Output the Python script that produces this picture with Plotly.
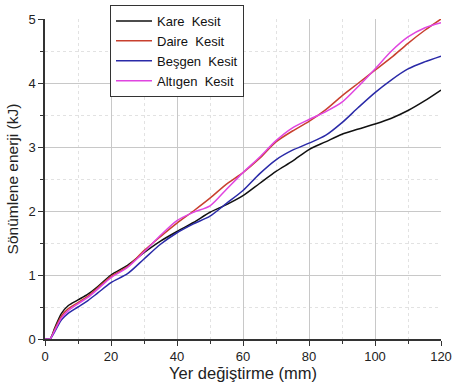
import plotly.graph_objects as go

# Displacement (mm) sample positions
displacement = [0, 1.5, 3, 5, 7, 10, 13, 16, 20, 25, 30, 35, 40, 45, 50, 55, 60,
                65, 70, 75, 80, 85, 90, 95, 100, 105, 110, 115, 120]

# Absorbed energy (kJ) for each cross-section
kare = [0, 0, 0.18, 0.40, 0.52, 0.61, 0.70, 0.82, 1.00, 1.15, 1.35, 1.53, 1.68, 1.82, 1.98,
        2.10, 2.24, 2.43, 2.62, 2.78, 2.96, 3.08, 3.20, 3.28, 3.36, 3.45, 3.57, 3.72, 3.89]
daire = [0, 0, 0.16, 0.36, 0.47, 0.57, 0.67, 0.80, 0.98, 1.13, 1.38, 1.60, 1.81, 2.00, 2.20,
         2.42, 2.60, 2.82, 3.08, 3.25, 3.40, 3.58, 3.80, 4.00, 4.20, 4.40, 4.62, 4.82, 5.00]
besgen = [0, 0, 0.12, 0.30, 0.40, 0.50, 0.60, 0.72, 0.88, 1.02, 1.25, 1.48, 1.66, 1.80, 1.92,
          2.12, 2.32, 2.58, 2.80, 2.95, 3.06, 3.18, 3.38, 3.62, 3.85, 4.05, 4.22, 4.33, 4.42]
altigen = [0, 0, 0.14, 0.33, 0.44, 0.55, 0.65, 0.78, 0.96, 1.12, 1.36, 1.62, 1.85, 1.98, 2.08,
           2.34, 2.60, 2.84, 3.10, 3.30, 3.43, 3.55, 3.70, 3.95, 4.22, 4.50, 4.72, 4.86, 4.94]

series_names = ["Kare\u00a0 Kesit", "Daire\u00a0 Kesit", "Beşgen\u00a0 Kesit", "Altıgen\u00a0 Kesit"]
series_values = [kare, daire, besgen, altigen]
series_colors = ["#111111", "#c8402e", "#2a2aa8", "#e045e0"]

FONT = "Liberation Sans"

fig = go.Figure()
for name, vals, color in zip(series_names, series_values, series_colors):
    fig.add_trace(go.Scatter(
        x=displacement, y=vals, mode="lines", name=name,
        line=dict(color=color, width=1.5, shape="spline", smoothing=0.8),
    ))

axis_common = dict(
    automargin=False,
    showline=True, linecolor="#333333", linewidth=1.5,
    ticks="outside", ticklen=5, tickwidth=1.2, tickcolor="#333333",
    showgrid=True, gridcolor="#c8c8c8", gridwidth=1,
    zeroline=False, mirror=False,
    tickfont=dict(family=FONT, size=13, color="#222222"),
)

fig.update_xaxes(
    range=[0, 120], dtick=20, tick0=0,
    title=dict(text="Yer değiştirme (mm)", standoff=2,
               font=dict(family=FONT, size=16.5, color="#222222")),
    minor=dict(dtick=10, ticks="outside", ticklen=3, tickcolor="#333333",
               showgrid=True, gridcolor="#e2e2e2", griddash="dot"),
    **axis_common,
)
fig.update_yaxes(
    range=[0, 5], dtick=1, tick0=0,
    title=dict(text="Sönümlene enerji (kJ)", standoff=6,
               font=dict(family=FONT, size=15.5, color="#222222")),
    minor=dict(dtick=0.5, ticks="outside", ticklen=3, tickcolor="#333333",
               showgrid=True, gridcolor="#e2e2e2", griddash="dot"),
    **axis_common,
)

fig.update_layout(
    width=452, height=385,
    margin=dict(l=45, r=11, t=19, b=46, autoexpand=False),
    plot_bgcolor="white", paper_bgcolor="white",
    legend=dict(
        x=(110 - 45) / 396, y=(339 - 5) / 320, xanchor="left", yanchor="top",
        bgcolor="white", bordercolor="#333333", borderwidth=1,
        font=dict(family=FONT, size=13, color="#111111"),
        tracegroupgap=0, itemwidth=36,
    ),
)

fig.write_html("out.html")
